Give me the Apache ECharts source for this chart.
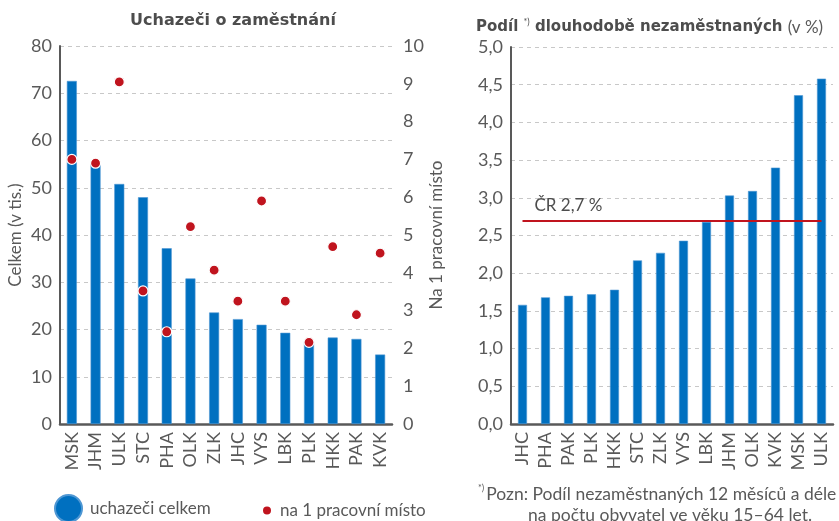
<!DOCTYPE html>
<html>
<head>
<meta charset="utf-8">
<script src="https://cdn.jsdelivr.net/npm/echarts@6/dist/echarts.min.js"></script>
<style>
  html, body { margin: 0; padding: 0; background: #fff; }
  #main { width: 839px; height: 521px; }
</style>
</head>
<body>
<div id="main"></div>
<script>
// levý graf – uchazeči o zaměstnání
const krajeA = ['MSK', 'JHM', 'ULK', 'STC', 'PHA', 'OLK', 'ZLK', 'JHC', 'VYS', 'LBK', 'PLK', 'HKK', 'PAK', 'KVK'];
const uchazeciCelkem = [72.6, 55.3, 50.8, 48.0, 37.2, 30.8, 23.6, 22.2, 21.0, 19.3, 17.5, 18.3, 18.0, 14.7];
const naMisto = [7.0, 6.9, 9.05, 3.52, 2.44, 5.22, 4.07, 3.25, 5.9, 3.25, 2.16, 4.69, 2.89, 4.52];

// pravý graf – podíl dlouhodobě nezaměstnaných
const krajeB = ['JHC', 'PHA', 'PAK', 'PLK', 'HKK', 'STC', 'ZLK', 'VYS', 'LBK', 'JHM', 'OLK', 'KVK', 'MSK', 'ULK'];
const podil = [1.58, 1.68, 1.70, 1.72, 1.78, 2.17, 2.27, 2.43, 2.68, 3.03, 3.09, 3.40, 4.36, 4.58];
const prumerCR = 2.7;

const FONT = 'Lato, "Noto Sans", sans-serif';
const TFONT = '"DejaVu Sans", sans-serif';
const TXT = '#595959';
const BLUE = '#0070c0';
const RED = '#c0141e';

const chart = echarts.init(document.getElementById('main'));

const catAxis = (data, grid) => ({
  type: 'category',
  gridIndex: grid,
  data: data,
  axisLine: { show: true, lineStyle: { color: '#595959', width: 2.5 } },
  axisTick: { show: false },
  axisLabel: { rotate: 90, interval: 0, color: TXT, fontSize: 18, fontFamily: FONT, margin: 8 }
});

const options = {
  animation: false,
  title: [
    {
      text: 'Uchazeči o zaměstnání',
      left: 228, top: 8, textAlign: 'center',
      textStyle: { fontSize: 16, fontWeight: 'bold', color: '#4d4d4d', fontFamily: TFONT }
    },
    {
      text: '{b|Podíl }{s|*)}{b| dlouhodobě nezaměstnaných }{n|(v %)}',
      left: 471, top: 13,
      textStyle: {
        fontFamily: TFONT,
        rich: {
          b: { fontSize: 15, fontWeight: 'bold', color: '#4d4d4d', fontFamily: TFONT },
          s: { fontSize: 9, fontWeight: 'normal', color: '#4d4d4d', verticalAlign: 'top', padding: [0, 0, 10, 0], fontFamily: FONT },
          n: { fontSize: 17, fontWeight: 'normal', color: TXT, fontFamily: FONT }
        }
      }
    },
    {
      text: '{s|*)}{t|Pozn: Podíl nezaměstnaných 12 měsíců a déle}\n{i|}{t|na počtu obyvatel ve věku 15–64 let.}',
      left: 478, top: 484,
      padding: 0,
      textStyle: {
        fontFamily: FONT,
        fontWeight: 'normal',
        lineHeight: 21,
        rich: {
          s: { fontSize: 9, fontWeight: 'normal', color: TXT, verticalAlign: 'top', padding: [0, 2, 9, 0], fontFamily: FONT },
          t: { fontSize: 17.5, fontWeight: 'normal', color: TXT, fontFamily: FONT, lineHeight: 21 },
          i: { width: 50 }
        }
      }
    }
  ],
  legend: [
    {
      data: [{ name: 'uchazeči celkem', icon: 'circle' }],
      left: 54, top: 494, padding: 0,
      itemWidth: 27, itemHeight: 27,
      textStyle: { fontSize: 17, color: TXT, fontFamily: FONT, padding: [0, 0, 0, 3] }
    },
    {
      data: [{ name: 'na 1 pracovní místo', icon: 'circle' }],
      left: 261, top: 502, padding: 0,
      itemWidth: 10, itemHeight: 10,
      textStyle: { fontSize: 17, color: TXT, fontFamily: FONT, padding: [0, 0, 0, 3] }
    }
  ],
  grid: [
    { left: 60, right: 447, top: 46, bottom: 97 },
    { left: 511, right: 6, top: 47, bottom: 97 }
  ],
  xAxis: [catAxis(krajeA, 0), catAxis(krajeB, 1)],
  yAxis: [
    {
      type: 'value', gridIndex: 0, min: 0, max: 80, interval: 10,
      name: 'Celkem (v tis.)', nameLocation: 'middle', nameGap: 36, nameRotate: 90,
      nameTextStyle: { fontSize: 17, color: TXT, fontFamily: FONT },
      axisLine: { show: true, lineStyle: { color: '#595959', width: 2 } },
      axisTick: { show: false },
      axisLabel: { color: TXT, fontSize: 18, fontFamily: FONT, margin: 8 },
      splitLine: { lineStyle: { color: '#c8c8c8', type: [4, 4] } }
    },
    {
      type: 'value', gridIndex: 0, min: 0, max: 10, interval: 1, position: 'right',
      name: 'Na 1 pracovní místo', nameLocation: 'middle', nameGap: 26, nameRotate: 90,
      nameTextStyle: { fontSize: 17, color: TXT, fontFamily: FONT },
      axisLine: { show: false },
      axisTick: { show: false },
      axisLabel: { color: TXT, fontSize: 18, fontFamily: FONT, margin: 11 },
      splitLine: { show: false }
    },
    {
      type: 'value', gridIndex: 1, min: 0, max: 5, interval: 0.5,
      axisLine: { show: true, lineStyle: { color: '#595959', width: 2 } },
      axisTick: { show: false },
      axisLabel: {
        color: TXT, fontSize: 18, fontFamily: FONT, margin: 8,
        formatter: (v) => v.toFixed(1).replace('.', ',')
      },
      splitLine: { lineStyle: { color: '#c8c8c8', type: [4, 4] } }
    }
  ],
  series: [
    {
      name: 'uchazeči celkem',
      type: 'bar',
      xAxisIndex: 0, yAxisIndex: 0,
      barWidth: 10,
      itemStyle: { color: BLUE, borderColor: '#4f97d3', borderWidth: 0.6 },
      data: uchazeciCelkem
    },
    {
      name: 'na 1 pracovní místo',
      type: 'scatter',
      xAxisIndex: 0, yAxisIndex: 1,
      symbolSize: 10,
      itemStyle: { color: RED, borderColor: '#fff', borderWidth: 1.2, opacity: 1 },
      data: naMisto,
      z: 5
    },
    {
      name: 'podíl',
      type: 'bar',
      xAxisIndex: 1, yAxisIndex: 2,
      barWidth: 9,
      itemStyle: { color: BLUE, borderColor: '#4f97d3', borderWidth: 0.6 },
      data: podil,
      markLine: {
        silent: true,
        symbol: 'none',
        lineStyle: { color: RED, width: 2, type: 'solid' },
        label: {
          show: true, position: 'insideStartTop',
          formatter: 'ČR ' + String(prumerCR).replace('.', ',') + ' %',
          color: '#4d4d4d', fontSize: 17, fontFamily: FONT, distance: [12, 6]
        },
        data: [[
          { coord: [krajeB[0], prumerCR] },
          { coord: [krajeB[krajeB.length - 1], prumerCR] }
        ]]
      }
    }
  ]
};

chart.setOption(options);
</script>
</body>
</html>
